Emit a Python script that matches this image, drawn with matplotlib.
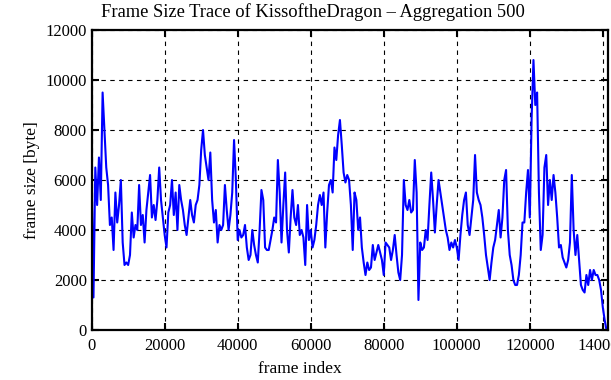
import numpy as np
import matplotlib.pyplot as plt

plt.rcParams['font.family'] = ['Liberation Serif', 'DejaVu Serif']

# aggregated frame sizes [byte], one value per 500 frames
agg = 500
sizes = [
    6000, 1300, 6500, 5000, 6900, 5200, 9500, 8000, 6500, 5800,
    4200, 4500, 3200, 5500, 4300, 5000, 6000, 3500, 2600, 2700,
    2600, 3000, 4700, 3700, 4200, 4000, 5800, 4200, 4600, 3500,
    4800, 5500, 6200, 4500, 5000, 4400, 5200, 6500, 5200, 4500,
    3800, 3300, 4700, 5000, 6000, 4600, 5500, 4000, 5800, 5200,
    4800, 4200, 3800, 4500, 5200, 4600, 4300, 5000, 5200, 5800,
    7200, 8000, 7000, 6500, 6000, 7100, 5200, 4300, 4800, 3500,
    4200, 4000, 4200, 5800, 4800, 4000, 4600, 5500, 7600, 6000,
    3600, 4000, 3700, 3800, 4200, 3300, 2800, 3000, 4000, 3400,
    3000, 2700, 4000, 5600, 5200, 3300, 3200, 3200, 3600, 4000,
    4500, 4300, 6800, 5500, 3500, 5000, 6300, 4000, 3100, 4500,
    5600, 4500, 4200, 5000, 3800, 4000, 3700, 2600, 5000, 3600,
    4000, 3300, 3600, 4200, 5000, 5400, 5000, 5500, 3300, 4700,
    5800, 6000, 5500, 7300, 6800, 7800, 8400, 7400, 6300, 5900,
    6200, 6000, 5000, 3200, 5500, 5200, 4000, 4500, 3300, 2700,
    2200, 2700, 2400, 2500, 3400, 2800, 3100, 3400, 3100, 2800,
    2200, 3500, 3400, 3300, 2800, 3200, 3800, 3000, 2300, 2000,
    3000, 6000, 5000, 4800, 5200, 4700, 4800, 6800, 5500, 1200,
    3500, 3200, 3300, 4000, 3600, 5000, 6300, 5200, 3900, 5000,
    6000, 5500, 5000, 4500, 4000, 3700, 3200, 3500, 3300, 3600,
    3300, 2800, 3800, 4600, 5200, 5500, 4200, 3800, 4500, 5200,
    7000, 5500, 5200, 5000, 4500, 3800, 3000, 2500, 2000, 2700,
    3300, 3600, 4200, 4800, 3700, 4500, 6000, 6400, 4000, 3000,
    2600, 2000, 1800, 1800, 2200, 3000, 4300, 4300, 5500, 6400,
    4500, 8500, 10800, 9000, 9500, 5500, 3200, 3800, 6500, 7000,
    5000, 6000, 5200, 6200, 5500, 4500, 3300, 3400, 2900, 2700,
    2500, 2800, 3500, 6200, 4000, 3000, 3800, 2800, 1800, 1600,
    1500, 2200, 1800, 2400, 2000, 2400, 2200, 2200, 2000, 1600,
    900, 400, 0,
]
frames = np.arange(len(sizes)) * agg

fig = plt.figure(figsize=(6.11, 3.80), dpi=100)
ax = fig.add_axes([0.150, 0.1316, 0.8456, 0.7894])

ax.plot(frames, sizes, color='#0000ff', lw=1.5)

ax.set_xlim(0, 141500)
ax.set_ylim(0, 12000)
ax.set_xticks(np.arange(0, 140001, 20000))
ax.set_yticks(np.arange(0, 12001, 2000))
ax.grid(True, color='black', lw=0.8, linestyle=(0, (4, 4)))
ax.tick_params(direction='in', top=True, right=True, length=5, width=1.5, labelsize=12)
ax.tick_params(axis='x', pad=6)
for s in ax.spines.values():
    s.set_linewidth(1.6)

# gnuplot-style: title and x label centred on the figure
fig.text(0.512, 1 - 12 / 380, 'Frame Size Trace of KissoftheDragon \u2013 Aggregation 500',
         fontsize=13.3, ha='center', va='center')
fig.text(0.49, 1 - 369 / 380, 'frame index', fontsize=12.5, ha='center', va='center')
ax.set_ylabel('frame size [byte]', fontsize=12.5, labelpad=4)

fig.savefig('out.png', dpi=100)
